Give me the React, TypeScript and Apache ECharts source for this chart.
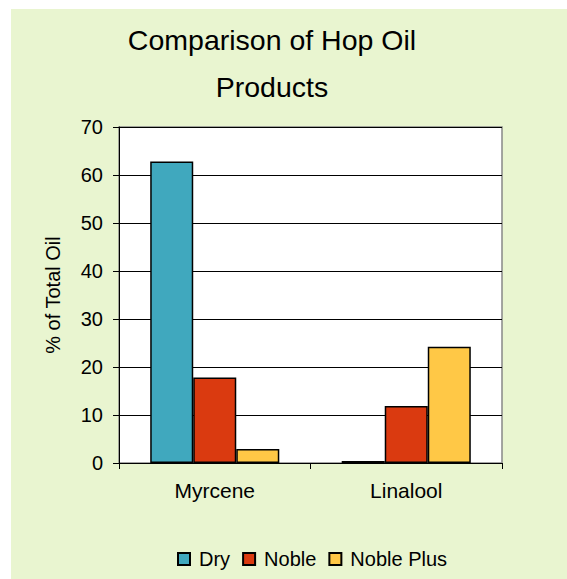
import React, { useEffect, useRef } from "react";
import * as echarts from "echarts";

const categories = ["Myrcene", "Linalool"];
const seriesNames = ["Dry", "Noble", "Noble Plus"];
const dryValues = [62.8, 0.4];
const nobleValues = [17.8, 11.9];
const noblePlusValues = [2.9, 24.2];
const seriesColors = ["#40A8BE", "#DA3A10", "#FFC846"];
const titleLines = ["Comparison of Hop Oil", "Products"];
const yAxisName = "% of Total Oil";

const FONT = "'Liberation Sans', Arial, sans-serif";

export default function App() {
  const ref = useRef<HTMLDivElement>(null);
  useEffect(() => {
    if (!ref.current) return;
    const chart = echarts.init(ref.current, undefined, { renderer: "svg" });
    const values = [dryValues, nobleValues, noblePlusValues];
    chart.setOption({
      animation: false,
      backgroundColor: "#E9F5D0",
      textStyle: { fontFamily: FONT },
      graphic: titleLines.map((t, i) => ({
        type: "text",
        x: 261,
        y: 30.5 + i * 47,
        style: {
          text: t,
          fontFamily: FONT,
          fontSize: 28.5,
          fill: "#000",
          textAlign: "center",
          textVerticalAlign: "middle",
        },
      })),
      legend: {
        left: 166,
        top: 540,
        padding: 0,
        itemWidth: 12,
        itemHeight: 12,
        itemGap: 12,
        icon: "rect",
        data: seriesNames,
        textStyle: { fontSize: 20, color: "#000", fontFamily: FONT, padding: [0, 0, 0, 4] },
      },
      grid: {
        left: 108,
        top: 118,
        width: 383,
        height: 336,
        show: true,
        backgroundColor: "#fff",
        borderColor: "#888",
        borderWidth: 1.5,
      },
      xAxis: {
        type: "category",
        data: categories,
        axisLine: { lineStyle: { color: "#000", width: 1 } },
        axisTick: { show: true, alignWithLabel: false, length: 6, lineStyle: { color: "#000" } },
        axisLabel: { fontSize: 21, color: "#000", margin: 17, fontFamily: FONT },
      },
      yAxis: {
        type: "value",
        min: 0,
        max: 70,
        interval: 10,
        name: yAxisName,
        nameLocation: "middle",
        nameGap: 56,
        nameTextStyle: { fontSize: 20, color: "#000", fontFamily: FONT },
        axisLine: { show: true, lineStyle: { color: "#000", width: 1 } },
        axisTick: { show: true, length: 6, lineStyle: { color: "#000" } },
        axisLabel: { fontSize: 20, color: "#000", margin: 16, fontFamily: FONT },
        splitLine: { show: true, lineStyle: { color: "#000", width: 1 } },
      },
      series: seriesNames.map((name, i) => ({
        name,
        type: "bar",
        data: values[i],
        barGap: "0%",
        barCategoryGap: "32.6%",
        itemStyle: { color: seriesColors[i], borderColor: "#000", borderWidth: 1.5 },
      })),
    });
    return () => chart.dispose();
  }, []);
  return (
    <div
      ref={ref}
      style={{ position: "fixed", left: 11, top: 9, width: 556, height: 570 }}
    />
  );
}
